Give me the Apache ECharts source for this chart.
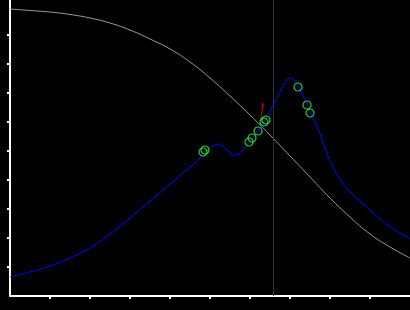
<!DOCTYPE html>
<html><head><meta charset="utf-8">
<script src="https://cdn.jsdelivr.net/npm/echarts@6/dist/echarts.min.js"></script>
<style>html,body{margin:0;padding:0;background:#000}#c{width:410px;height:310px}</style>
</head><body><div id="c"></div>
<script>
// grey decreasing curve [x, y]
const greyCurve = [
  [0,9.897],[0.5,9.845],[1,9.793],[1.5,9.707],[2,9.586],[2.5,9.414],[3,9.172],[3.5,8.862],
  [4,8.517],[4.5,8.069],[5,7.517],[5.5,6.897],[6,6.241],[6.5,5.552],[7,4.828],[7.5,4.103],
  [8,3.379],[8.5,2.724],[9,2.138],[9.5,1.69],[10,1.31]
];
// blue curve [x, y]
const blueCurve = [
  [0,0.655],[0.5,0.828],[1.0,1.034],[1.5,1.310],[2.0,1.655],[2.5,2.138],[3.0,2.690],
  [3.5,3.276],[4.0,3.862],[4.5,4.448],[4.75,4.759],[4.875,4.931],[5.0,5.103],[5.125,5.207],
  [5.225,5.241],[5.325,5.172],[5.425,5.034],[5.525,4.897],[5.6,4.862],[5.7,4.897],[5.8,5.0],
  [5.9,5.172],[6.0,5.345],[6.125,5.552],[6.25,5.793],[6.375,6.069],[6.5,6.379],[6.625,6.724],
  [6.75,7.034],[6.85,7.310],[6.95,7.483],[7.025,7.517],[7.1,7.448],[7.175,7.310],[7.25,7.103],
  [7.35,6.828],[7.45,6.517],[7.55,6.207],[7.65,5.897],[7.75,5.586],[7.9,5.0],[8.075,4.448],
  [8.275,3.966],[8.5,3.586],[8.75,3.276],[9.0,2.966],[9.25,2.655],[9.5,2.379],[9.75,2.172],[10,1.966]
];
// green circle markers
const markers = [
  [4.825,4.966],[4.875,5.034],[5.975,5.31],[6.05,5.448],[6.2,5.69],[6.35,6.0],[6.4,6.069],
  [7.2,7.207],[7.425,6.586],[7.5,6.31]
];
// red bracket mark
const redMark = [[6.32,6.66],[6.27,6.66],[6.27,6.03]];
// vertical line position
const vLineX = 6.575;
const xTicks = [1,2,3,4,5,6,7,8,9];
const yTicks = [1,2,3,4,5,6,7,8,9];

const chart = echarts.init(document.getElementById('c'), null, {renderer:'canvas'});
const axisCommon = {
  axisLine:{show:true,onZero:false,lineStyle:{color:'#fff',width:2}},
  axisTick:{show:true,inside:false,length:3,lineStyle:{color:'#fff',width:2}},
  axisLabel:{show:false},
  splitLine:{show:false}
};
chart.setOption({
  backgroundColor:'#000',
  animation:false,
  grid:{left:10,right:0,top:0,bottom:14},
  xAxis:Object.assign({type:'value',min:0,max:10,interval:1}, axisCommon,
    {axisTick:Object.assign({}, axisCommon.axisTick,{customValues:xTicks})}),
  yAxis:Object.assign({type:'value',min:0,max:296/29,interval:1}, axisCommon,
    {axisTick:Object.assign({}, axisCommon.axisTick,{customValues:yTicks})}),
  series:[
    {type:'line',data:greyCurve,smooth:0.5,showSymbol:false,lineStyle:{color:'#9a9a9a',width:1},z:2},
    {type:'line',data:blueCurve,smooth:0.5,showSymbol:false,lineStyle:{color:'#0000ff',width:1},z:3,
      markLine:{silent:true,symbol:'none',label:{show:false},lineStyle:{color:'#6a0a7a',width:1,type:'solid'},data:[{xAxis:vLineX}]}},
    {type:'line',data:redMark,showSymbol:false,lineStyle:{color:'#dd0000',width:1},z:4},
    {type:'scatter',data:markers,symbol:'circle',symbolSize:8,itemStyle:{color:'rgba(0,0,0,0)',borderColor:'#33ff33',borderWidth:1.2},z:5}
  ]
});
</script></body></html>
